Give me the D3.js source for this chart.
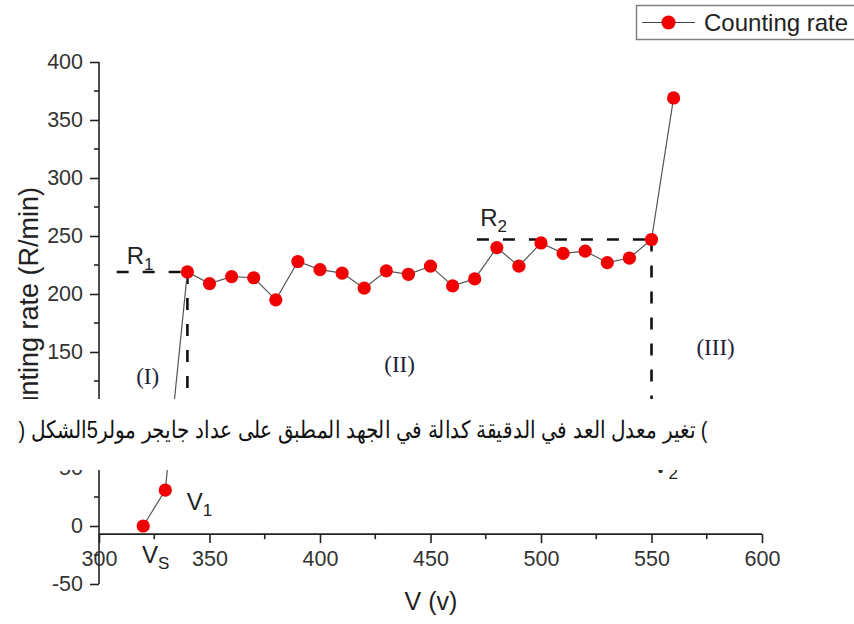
<!DOCTYPE html>
<html><head><meta charset="utf-8">
<script src="https://cdn.jsdelivr.net/npm/d3@7"></script>
<style>body{margin:0;background:#fff}svg{display:block}</style>
</head><body>
<svg id="c" width="854" height="624"></svg>
<script>
// ---- data ----
const voltages   = [320,330,340,350,360,370,380,390,400,410,420,430,440,450,460,470,480,490,500,510,520,530,540,550,560];
const countRates = [0,31,219,209,215,214,195,228,221,218,205,220,217,224,207,213,240,224,244,235,237,227,231,247,369];
const xTicks = [300,350,400,450,500,550,600];
const yTicks = [-50,0,50,100,150,200,250,300,350,400];
const yHiddenLabels = [100];        // covered by the caption band in the reference
const xDomain = [300,600];
const yDomain = [-50,400];
const xAxisAt = -7;                 // value where the V axis crosses
const seriesName = "Counting rate";
const xTitle = "V (v)";
const yTitle = "Counting rate (R/min)";
// plateau guide lines: [xStart, xEnd, level]
const plateauR1 = [308,340,219];
const plateauR2 = [471,550,247];
// threshold guides: [voltage, topValue, bottomValue]
const guideV1 = [340,219,40];
const guideV2 = [550,247,60];
const regionNames = ["(I)","(II)","(III)"];
const regionXs = [322,436,579];
const regionYs = [122,133,147];
const caption = ") تغير معدل العد في الدقيقة كدالة في الجهد المطبق على عداد جايجر مولر5الشكل (";

// ---- scales ----
const svg = d3.select("#c");
const x = d3.scaleLinear().domain(xDomain).range([99,762]);
const y = d3.scaleLinear().domain(yDomain).range([584,62]);
const sans = "Arial, 'Liberation Sans', sans-serif";
const serif = "'Times New Roman', 'Liberation Serif', serif";
const fmt = d => String(d);

// ---- axes ----
const yMinor = d3.range(-25,400,50);
const xMinor = d3.range(325,600,50);
const gy = svg.append("g").attr("transform",`translate(${x(300)},0)`)
  .call(d3.axisLeft(y).tickValues(yTicks).tickSize(9).tickPadding(7).tickFormat(fmt));
gy.selectAll(".tick text").attr("font-size",21.5).attr("font-family",sans).attr("fill","#333");
gy.selectAll(".tick text").filter(d => yHiddenLabels.includes(d)).remove();
gy.selectAll("line, path").attr("stroke","#222").attr("stroke-width",1.6);
gy.select(".domain").attr("d",`M0,${y(-50)}V${y(400)}`);
gy.selectAll(".minor").data(yMinor).enter().append("line")
  .attr("x1",-5).attr("x2",0).attr("y1",d=>y(d)).attr("y2",d=>y(d)).attr("stroke","#222").attr("stroke-width",1.6);

const gx = svg.append("g").attr("transform",`translate(0,${y(xAxisAt)})`)
  .call(d3.axisBottom(x).tickValues(xTicks).tickSize(9).tickPadding(8).tickFormat(fmt));
gx.selectAll(".tick text").attr("font-size",21.5).attr("font-family",sans).attr("fill","#333");
gx.selectAll("line, path").attr("stroke","#222").attr("stroke-width",1.6);
gx.select(".domain").attr("d",`M${x(300)},0H${x(600)}`);
gx.selectAll(".minor").data(xMinor).enter().append("line")
  .attr("y1",0).attr("y2",5).attr("x1",d=>x(d)).attr("x2",d=>x(d)).attr("stroke","#222").attr("stroke-width",1.6);

// axis titles
svg.append("text").attr("x",431).attr("y",610).attr("text-anchor","middle")
  .attr("font-family",sans).attr("font-size",25).attr("fill","#222").text(xTitle);
svg.append("text").attr("transform","translate(38,316) rotate(-90)").attr("text-anchor","middle")
  .attr("font-family",sans).attr("font-size",27).attr("fill","#222").text(yTitle);

// ---- guide lines ----
const dash = "12,14";
function hguide(p){
  svg.append("line").attr("x1",x(p[0])).attr("x2",x(p[1])).attr("y1",y(p[2])).attr("y2",y(p[2]))
    .attr("stroke","#111").attr("stroke-width",2.6).attr("stroke-dasharray",dash);
}
function vguide(p){
  svg.append("line").attr("x1",x(p[0])).attr("x2",x(p[0])).attr("y1",y(p[1])).attr("y2",y(p[2]))
    .attr("stroke","#111").attr("stroke-width",2.6).attr("stroke-dasharray",dash);
}
hguide(plateauR1); hguide(plateauR2); vguide(guideV1); vguide(guideV2);

// ---- series ----
const pts = voltages.map((v,i)=>({v, r: countRates[i]}));
svg.append("path").datum(pts)
  .attr("d", d3.line().x(d=>x(d.v)).y(d=>y(d.r)))
  .attr("fill","none").attr("stroke","#555").attr("stroke-width",1.2);
svg.selectAll(".pt").data(pts).enter().append("circle")
  .attr("cx",d=>x(d.v)).attr("cy",d=>y(d.r)).attr("r",6.6).attr("fill","#f00000");

// ---- annotation labels ----
function subLabel(px,py,main,sub){
  const t = svg.append("text").attr("x",px).attr("y",py).attr("font-family",sans)
    .attr("font-size",24).attr("fill","#222");
  t.append("tspan").text(main);
  t.append("tspan").attr("font-size",17).attr("dy",6).text(sub);
}
subLabel(x(312.5), y(226), "R","1");
subLabel(x(472.5), y(259), "R","2");
subLabel(x(319.5), y(-32), "V","S");
subLabel(x(339.7), y(14), "V","1");
subLabel(x(550.5), y(46), "V","2");

regionNames.forEach((n,i)=>{
  svg.append("text").attr("x",x(regionXs[i])).attr("y",y(regionYs[i])).attr("text-anchor","middle")
    .attr("font-family",serif).attr("font-size",23).attr("fill","#1c2238").text(n);
});

// ---- caption band ----
svg.append("rect").attr("x",0).attr("y",399).attr("width",854).attr("height",71).attr("fill","#fff");
const cap = svg.append("text").attr("transform","translate(363,438) scale(1,1.2)").attr("text-anchor","middle")
  .attr("direction","rtl").style("direction","rtl").style("unicode-bidi","embed")
  .attr("font-family",sans).attr("font-size",20).attr("fill","#111").text(caption);
const L = cap.node().getComputedTextLength();
cap.attr("font-size", 20*690/L);

// ---- legend ----
svg.append("rect").attr("x",636.5).attr("y",5.5).attr("width",240).attr("height",34)
  .attr("fill","#fff").attr("stroke","#808080").attr("stroke-width",1.5);
svg.append("line").attr("x1",642).attr("x2",695).attr("y1",22.5).attr("y2",22.5).attr("stroke","#444").attr("stroke-width",1.2);
svg.append("circle").attr("cx",668.5).attr("cy",22.5).attr("r",7).attr("fill","#f00000");
svg.append("text").attr("x",704).attr("y",31).attr("font-family",sans).attr("font-size",24).attr("fill","#222").text(seriesName);
</script>
</body></html>
